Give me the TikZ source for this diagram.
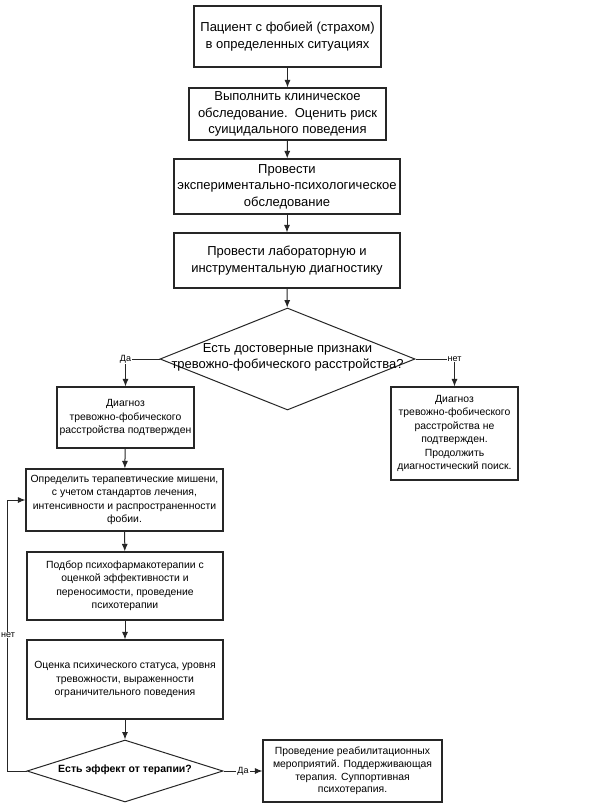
\documentclass[tikz,border=0pt]{standalone}
\usepackage{fontspec}
\setmainfont{Liberation Sans}
\usetikzlibrary{shapes.geometric,arrows.meta}
\begin{document}
\begin{tikzpicture}[x=1pt,y=-1pt,
  box/.style={draw=black!85,line width=1.1pt,inner sep=0pt,align=center,text=black},
  big/.style={font=\fontsize{13}{16.5}\selectfont},
  small/.style={font=\fontsize{10.4}{13.5}\selectfont},
  dia/.style={draw=black!85,line width=1pt,shape=diamond,inner sep=0pt},
  arr/.style={draw=black!85,line width=1pt,-{Latex[length=7.5pt,width=6pt]}},
  lbl/.style={fill=white,inner sep=1pt,font=\fontsize{9}{10}\selectfont}
]
\useasboundingbox (0,0) rectangle (603,808);
\fill[white] (0,0) rectangle (603,808);

\node[box,big,minimum width=187pt,minimum height=61pt] (b1) at (287.5,36.5)
  {Пациент с фобией (страхом)\\в определенных ситуациях};
\node[box,big,minimum width=197pt,minimum height=52pt] (b2) at (287.5,114)
  {Выполнить клиническое\\обследование.\ \ Оценить риск\\суицидального поведения};
\node[box,big,minimum width=226pt,minimum height=55pt] (b3) at (287,186.5)
  {Провести\\экспериментально-психологическое\\обследование};
\node[box,big,minimum width=226pt,minimum height=55pt] (b4) at (287,260.5)
  {Провести лабораторную и\\инструментальную диагностику};

\node[dia,minimum width=255pt,minimum height=102pt] (d1) at (287.5,359) {};
\node[big,align=center] (d1t) at (287.5,357.5)
  {Есть достоверные признаки\\тревожно-фобического расстройства?};

\node[box,small,minimum width=137pt,minimum height=61pt] (b5) at (125.5,417.5)
  {Диагноз\\тревожно-фобического\\расстройства подтвержден};
\node[box,small,minimum width=127pt,minimum height=93pt] (b6) at (454.5,433.5)
  {Диагноз\\тревожно-фобического\\расстройства не\\подтвержден.\\Продолжить\\диагностический поиск.};

\node[box,small,minimum width=197pt,minimum height=62pt] (b7) at (124.5,500)
  {Определить терапевтические мишени,\\с учетом стандартов лечения,\\интенсивности и распространенности\\фобии.};
\node[box,small,minimum width=196pt,minimum height=68pt] (b8) at (125,586)
  {Подбор психофармакотерапии с\\оценкой эффективности и\\переносимости, проведение\\психотерапии};
\node[box,small,minimum width=196pt,minimum height=79pt] (b9) at (125,679.5)
  {Оценка психического статуса, уровня\\тревожности, выраженности\\ограничительного поведения};

\node[dia,minimum width=196pt,minimum height=62pt] (d2) at (125,771) {};
\node[font=\bfseries\fontsize{10.5}{13.5}\selectfont] (d2t) at (125,770) {Есть эффект от терапии?};

\node[box,font=\fontsize{10.4}{12.7}\selectfont,minimum width=179pt,minimum height=62pt] (b10) at (352.5,771)
  {Проведение реабилитационных\\мероприятий. Поддерживающая\\терапия. Суппортивная\\психотерапия.};

\draw[arr] (b1) -- (b2);
\draw[arr] (b2) -- (b3);
\draw[arr] (b3) -- (b4);
\draw[arr] (b4) -- (d1);

\coordinate (cl) at (b5.north |- d1.west);
\coordinate (cr) at (b6.north |- d1.east);
\draw[arr] (d1.west) -| (b5.north);
\node[lbl] (lda1) at (cl) {Да};
\draw[arr] (d1.east) -| (b6.north);
\node[lbl] (lnet1) at (cr) {нет};

\draw[arr] (b5) -- (b7);
\draw[arr] (b7) -- (b8);
\draw[arr] (b8) -- (b9);
\draw[arr] (b9) -- (d2);

\coordinate (fb1) at (7,771);
\coordinate (fb2) at (7,500);
\draw[arr] (d2.west) -- (fb1) -- (fb2) -- (b7.west);
\node[lbl] (lnet2) at (8,635) {нет};

\draw[arr] (d2.east) -- (b10.west) node[lbl,pos=0.5] (lda2) {Да};
\end{tikzpicture}
\end{document}
